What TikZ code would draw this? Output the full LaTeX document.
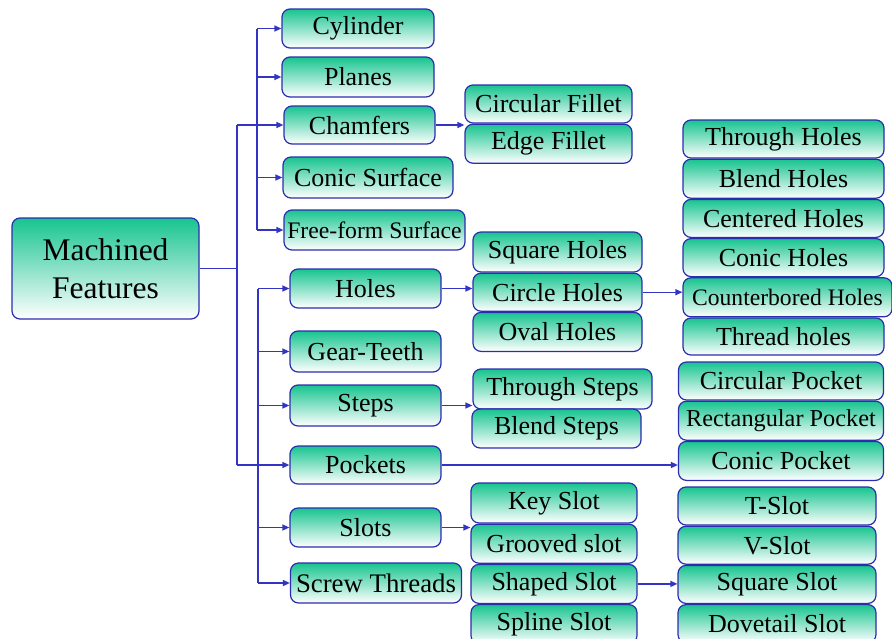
\documentclass[tikz,border=0pt]{standalone}
\usepackage{fontspec}
\setmainfont{Liberation Serif}
\usepackage{xcolor}
\usepackage[]{tikz}
\usetikzlibrary{positioning,calc}
\usetikzlibrary{arrows.meta,arrows}
\definecolor{featGreen}{HTML}{17C48F}
\definecolor{edgeBlue}{HTML}{2C2CAE}
\definecolor{linkBlue}{HTML}{3434C4}
\tikzstyle{featBox}=[rectangle,rounded corners=8pt,draw=edgeBlue,line width=1.2pt,
  top color=featGreen,bottom color=white,inner sep=0pt,
  minimum width=151pt,minimum height=39pt,font=\fontsize{26}{28}\selectfont]
\tikzstyle{bus}=[draw=linkBlue,line width=1.4pt]
\tikzstyle{link}=[draw=linkBlue,line width=1.4pt,-{Triangle[length=7pt,width=6pt]}]

\begin{document}
\begin{tikzpicture}[x=1pt,y=-1pt]
      \useasboundingbox (0,0) rectangle (892,638);
      % root
      \node[featBox,minimum width=187pt,minimum height=101pt,align=center,
        font=\fontsize{31.5}{38}\selectfont] (main) [] at (105.5,268.5) {Machined\\Features};
      % first level
      \node[featBox,minimum width=152pt] (cyl) [] at (358,28.5) {Cylinder};
      \node[featBox,minimum width=152pt,minimum height=40pt] (pla) [] at (358,77) {Planes};
      \node[featBox,minimum height=38pt] (cha) [] at (359.5,125) {Chamfers};
      \node[featBox,minimum width=170pt,minimum height=41pt] (con) [] at (368,177.5) {Conic Surface};
      \node[featBox,minimum width=181pt,minimum height=40pt,
        font=\fontsize{23.7}{26}\selectfont] (free) [] at (374.5,230) {Free-form Surface};
      \node[featBox] (hol) [] at (365.5,288.5) {Holes};
      \node[featBox,minimum height=41pt] (gear) [] at (365.5,351.5) {Gear-Teeth};
      \node[featBox,minimum height=41pt] (ste) [] at (365.5,405.5) {Steps};
      \node[featBox,minimum height=38pt] (poc) [] at (365.5,465) {Pockets};
      \node[featBox] (slo) [] at (365.5,527.5) {Slots};
      \node[featBox,minimum width=171pt,minimum height=40pt,
        font=\fontsize{26.8}{28}\selectfont] (scr) [] at (376,583) {Screw Threads};
      % second level
      \node[featBox,minimum width=167pt,minimum height=38pt] (cfil) [] at (548.5,104) {Circular Fillet};
      \node[featBox,minimum width=167pt] (efil) [below = 0pt of cfil] {Edge Fillet};
      \node[featBox,minimum width=169pt,minimum height=40pt] (sqh) [] at (557.5,252) {Square Holes};
      \node[featBox,minimum width=169pt,minimum height=38pt] (cih) [below = 0pt of sqh] {Circle Holes};
      \node[featBox,minimum width=169pt] (ovh) [below = 0pt of cih] {Oval Holes};
      \node[featBox,minimum width=179pt,minimum height=40pt] (ths) [] at (562.5,389) {Through Steps};
      \node[featBox,minimum width=169pt] (bls) [] at (556.5,428.5) {Blend Steps};
      \node[featBox,minimum width=166pt,minimum height=40pt] (key) [] at (554,503) {Key Slot};
      \node[featBox,minimum width=166pt] (gro) [below = 0pt of key] {Grooved slot};
      \node[featBox,minimum width=166pt] (sha) [below = 0pt of gro] {Shaped Slot};
      \node[featBox,minimum width=166pt] (spl) [below = 0pt of sha] {Spline Slot};
      % third level
      \node[featBox,minimum width=201pt,minimum height=38pt] (thh) [] at (783.5,139) {Through Holes};
      \node[featBox,minimum width=201pt] (blh) [below = 0pt of thh] {Blend Holes};
      \node[featBox,minimum width=201pt,minimum height=38pt] (ceh) [below = 0pt of blh] {Centered Holes};
      \node[featBox,minimum width=201pt,minimum height=38pt] (coh) [below = 0pt of ceh] {Conic Holes};
      \node[featBox,minimum width=209pt,font=\fontsize{23.6}{26}\selectfont] (cbh)
        [below = 0pt of coh.south west,anchor=north west] {Counterbored Holes};
      \node[featBox,minimum width=201pt,minimum height=37pt] (trh)
        [below = 0pt of cbh.south west,anchor=north west] {Thread holes};
      \node[featBox,minimum width=205pt,minimum height=38pt] (cip) [] at (781,381) {Circular Pocket};
      \node[featBox,minimum width=205pt,font=\fontsize{24.3}{26}\selectfont] (rep) [below = 0pt of cip] {Rectangular Pocket};
      \node[featBox,minimum width=205pt] (cop) [below = 0pt of rep] {Conic Pocket};
      \node[featBox,minimum width=198pt,minimum height=38pt] (tsl) [] at (777,506) {T-Slot};
      \node[featBox,minimum width=198pt,minimum height=38pt] (vsl) [below = 0pt of tsl] {V-Slot};
      \node[featBox,minimum width=198pt,minimum height=38pt] (sqs) [below = 0pt of vsl] {Square Slot};
      \node[featBox,minimum width=198pt,minimum height=38pt] (dov) [below = 0pt of sqs] {Dovetail Slot};
      % buses
      \coordinate (mbus) at (237,0);
      \coordinate (tbus) at (257,0);
      \coordinate (bbus) at (258,0);
      \draw[bus] (main.east) -- (main.east -| mbus);
      \draw[bus] (mbus |- cha.west) -- (mbus |- poc.west);
      \draw[bus] (tbus |- cyl.west) -- (tbus |- free.west);
      \draw[bus] (bbus |- hol.west) -- (bbus |- scr.west);
      \draw[link] (mbus |- cha.west) -- (cha.west);
      \draw[link] (mbus |- poc.west) -- (poc.west);
      \draw[link] (tbus |- cyl.west) -- (cyl.west);
      \draw[link] (tbus |- pla.west) -- (pla.west);
      \draw[link] (tbus |- con.west) -- (con.west);
      \draw[link] (tbus |- free.west) -- (free.west);
      \draw[link] (bbus |- hol.west) -- (hol.west);
      \draw[link] (bbus |- gear.west) -- (gear.west);
      \draw[link] (bbus |- ste.west) -- (ste.west);
      \draw[link] (bbus |- slo.west) -- (slo.west);
      \draw[link] (bbus |- scr.west) -- (scr.west);
      % sub-feature links
      \draw[link] (cha.east) -- (cha.east -| efil.west);
      \draw[link] (hol.east) -- (hol.east -| cih.west);
      \draw[link] (cih.east) -- (cih.east -| cbh.west);
      \draw[link] (ste.east) -- (ste.east -| ths.west);
      \draw[link] (poc.east) -- (poc.east -| cop.west);
      \draw[link] (slo.east) -- (slo.east -| gro.west);
      \draw[link] (sha.east) -- (sha.east -| sqs.west);
    \end{tikzpicture}
\end{document}
